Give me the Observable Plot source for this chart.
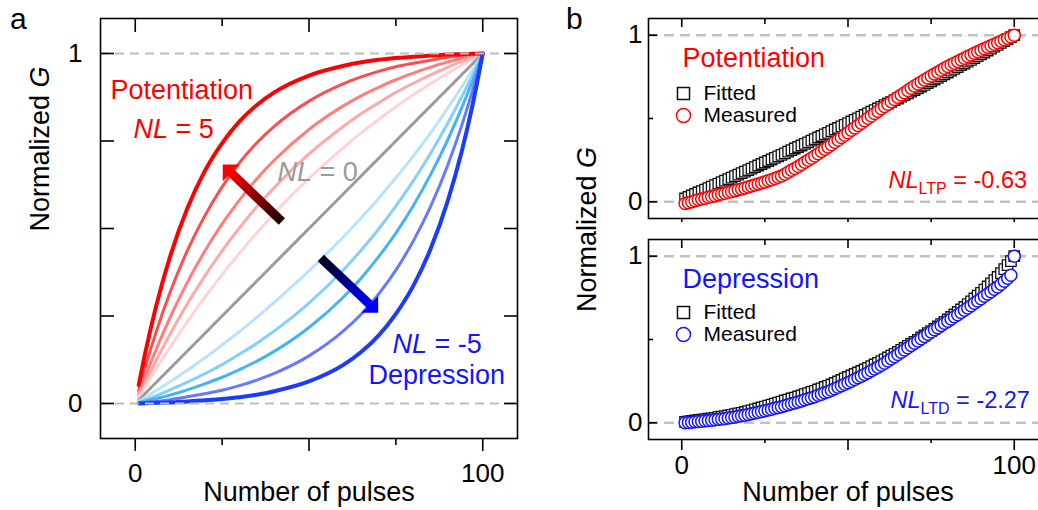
<!DOCTYPE html>
<html><head><meta charset="utf-8">
<script src="https://cdn.jsdelivr.net/npm/d3@7"></script>
<script src="https://cdn.jsdelivr.net/npm/@observablehq/plot@0.6"></script>
<style>
html,body{margin:0;padding:0;background:#fff;overflow:hidden;}
#root{position:relative;width:1038px;height:510px;overflow:hidden;font-family:"Liberation Sans",Arial,Helvetica,sans-serif;color:#000;}
</style></head><body><div id="root"></div>
<script>
// ---------------- DATA ----------------
// Panel a: pulse numbers sampled along each curve
const pulsesA = [1,3,6,10,15,20,25,30,35,40,50,60,65,70,75,80,85,90,94,97,100];
const nlLevels = [5,4,3,2,1,0,-1,-2,-3,-4,-5];
const nlColors = ["#ff0000","#ff4d4d","#ff7d7d","#ffa8a8","#ffd3d3","#9a9a9a","#b8e3ff","#86cefc","#44b3f5","#6679ff","#1a3cff"];
const curveNL5  = [0.053,0.150,0.278,0.419,0.558,0.664,0.744,0.806,0.853,0.889,0.937,0.965,0.975,0.982,0.987,0.991,0.994,0.997,0.998,0.999,1];
const curveNL4  = [0.037,0.108,0.204,0.317,0.437,0.536,0.619,0.688,0.745,0.792,0.864,0.914,0.933,0.949,0.962,0.972,0.981,0.989,0.994,0.997,1];
const curveNL3  = [0.027,0.080,0.154,0.245,0.346,0.435,0.513,0.581,0.642,0.695,0.783,0.851,0.879,0.903,0.925,0.944,0.961,0.976,0.986,0.993,1];
const curveNL2  = [0.022,0.063,0.123,0.198,0.285,0.364,0.436,0.502,0.562,0.617,0.713,0.793,0.828,0.859,0.889,0.915,0.939,0.961,0.978,0.989,1];
const curveNL1  = [0.017,0.050,0.099,0.160,0.234,0.303,0.368,0.430,0.488,0.543,0.643,0.732,0.773,0.811,0.848,0.882,0.914,0.944,0.967,0.984,1];
const curveNL0  = [0.010,0.030,0.060,0.100,0.150,0.200,0.250,0.300,0.350,0.400,0.500,0.600,0.650,0.700,0.750,0.800,0.850,0.900,0.940,0.970,1];
const curveNLm1 = [0.006,0.018,0.037,0.062,0.095,0.130,0.167,0.206,0.246,0.289,0.379,0.477,0.530,0.586,0.645,0.707,0.773,0.845,0.905,0.952,1];
const curveNLm2 = [0.004,0.011,0.022,0.039,0.061,0.085,0.111,0.141,0.172,0.207,0.287,0.383,0.438,0.498,0.564,0.636,0.715,0.802,0.877,0.937,1];
const curveNLm3 = [0.002,0.007,0.014,0.024,0.039,0.056,0.075,0.097,0.121,0.149,0.217,0.305,0.358,0.419,0.487,0.565,0.654,0.755,0.846,0.920,1];
const curveNLm4 = [0.001,0.003,0.006,0.011,0.019,0.028,0.038,0.051,0.067,0.086,0.136,0.208,0.255,0.312,0.381,0.464,0.563,0.683,0.796,0.892,1];
const curveNLm5 = [0.000,0.001,0.002,0.003,0.006,0.009,0.013,0.018,0.025,0.035,0.063,0.111,0.147,0.194,0.256,0.336,0.442,0.581,0.722,0.850,1];
const curvesA = [curveNL5,curveNL4,curveNL3,curveNL2,curveNL1,curveNL0,curveNLm1,curveNLm2,curveNLm3,curveNLm4,curveNLm5];
const refLevels = [0, 1];
// annotation arrows of panel a (tail -> head base), data units
const arrowPot = [{x1: 42.2, y1: 0.52, x2: 27.6, y2: 0.659}];
const arrowDep = [{x1: 53.4, y1: 0.416, x2: 67.5, y2: 0.283}];

// Panel b: 100 pulses
const pulsesB = d3.range(1, 101);
const ltpMeasured = [-0.010,-0.005,0.000,0.006,0.012,0.017,0.022,0.027,0.032,0.037,0.042,0.047,0.052,0.057,0.062,0.067,0.072,0.077,0.083,0.089,0.095,0.101,0.107,0.113,0.119,0.126,0.133,0.140,0.147,0.155,0.166,0.177,0.189,0.200,0.212,0.224,0.237,0.249,0.262,0.275,0.288,0.302,0.315,0.329,0.343,0.357,0.371,0.386,0.400,0.414,0.429,0.443,0.458,0.472,0.487,0.501,0.515,0.530,0.544,0.558,0.572,0.586,0.600,0.614,0.628,0.641,0.655,0.668,0.682,0.695,0.707,0.719,0.731,0.743,0.755,0.767,0.778,0.790,0.801,0.812,0.822,0.832,0.842,0.852,0.862,0.872,0.881,0.891,0.900,0.910,0.919,0.928,0.937,0.946,0.955,0.964,0.973,0.982,0.990,1.000];
const ltpFitted = [0.020,0.029,0.038,0.047,0.056,0.064,0.073,0.082,0.091,0.100,0.109,0.118,0.127,0.136,0.145,0.154,0.163,0.172,0.181,0.190,0.199,0.208,0.218,0.227,0.236,0.245,0.254,0.264,0.273,0.282,0.291,0.301,0.310,0.320,0.329,0.338,0.348,0.357,0.367,0.376,0.386,0.395,0.405,0.414,0.424,0.434,0.443,0.453,0.462,0.472,0.482,0.492,0.501,0.511,0.521,0.531,0.541,0.550,0.560,0.570,0.580,0.590,0.600,0.610,0.620,0.631,0.641,0.651,0.661,0.671,0.681,0.692,0.702,0.713,0.723,0.734,0.744,0.755,0.765,0.776,0.787,0.798,0.809,0.820,0.830,0.841,0.852,0.863,0.874,0.885,0.896,0.908,0.919,0.931,0.942,0.954,0.965,0.977,0.988,1.000];
const ltdMeasured = [0.000,0.002,0.004,0.006,0.008,0.010,0.012,0.014,0.016,0.018,0.021,0.023,0.026,0.029,0.032,0.035,0.039,0.042,0.046,0.050,0.054,0.059,0.063,0.068,0.072,0.077,0.082,0.087,0.092,0.097,0.103,0.108,0.114,0.119,0.125,0.131,0.138,0.144,0.151,0.157,0.165,0.172,0.180,0.187,0.195,0.204,0.213,0.222,0.231,0.240,0.250,0.260,0.270,0.280,0.290,0.301,0.312,0.323,0.334,0.345,0.358,0.371,0.384,0.397,0.410,0.424,0.437,0.451,0.464,0.478,0.491,0.505,0.518,0.532,0.545,0.558,0.571,0.584,0.597,0.610,0.623,0.636,0.649,0.662,0.675,0.689,0.703,0.717,0.731,0.745,0.759,0.773,0.787,0.801,0.815,0.832,0.850,0.867,0.885,1.000];
const ltdFitted = [0.006,0.009,0.011,0.014,0.017,0.019,0.022,0.025,0.027,0.030,0.034,0.037,0.040,0.044,0.048,0.052,0.057,0.060,0.065,0.070,0.075,0.081,0.086,0.092,0.097,0.103,0.109,0.115,0.121,0.127,0.134,0.139,0.146,0.151,0.158,0.164,0.172,0.178,0.186,0.192,0.200,0.207,0.215,0.222,0.230,0.239,0.248,0.257,0.266,0.275,0.284,0.293,0.302,0.311,0.320,0.330,0.340,0.350,0.360,0.370,0.381,0.392,0.403,0.414,0.425,0.438,0.449,0.462,0.473,0.486,0.498,0.512,0.524,0.538,0.550,0.564,0.578,0.592,0.606,0.620,0.635,0.650,0.665,0.680,0.695,0.712,0.729,0.746,0.763,0.780,0.799,0.818,0.837,0.856,0.875,0.898,0.922,0.946,0.970,1.000];

const xTicksMajor = [0, 50, 100], xTicksMinor = [25, 75], xTickLabels = [0, 100];
const yTicksA = [0, 0.25, 0.5, 0.75, 1], yTicksBMajor = [0, 1], yTicksBMinor = [0.5], yTickLabels = [0, 1];
const legendLabels = ["Fitted", "Measured"];

// ---------------- HELPERS ----------------
const FONT = '"Liberation Sans", Arial, Helvetica, sans-serif';
const NS = "http://www.w3.org/2000/svg";
const root = document.getElementById("root");
const RED = "#ff0000", BLUE = "#1414ff";
function place(el, left, top) { el.style.position = "absolute"; el.style.left = left + "px"; el.style.top = top + "px"; root.appendChild(el); }
function ts(txt, attrs) { const t = document.createElementNS(NS, "tspan"); for (const k in attrs) t.setAttribute(k, attrs[k]); t.textContent = txt; return t; }
function richify(svg) {
  svg.querySelectorAll("text").forEach(t => {
    const s = t.textContent; let m;
    if ((m = s.match(/^NL_(\w+) = (.+)$/))) {
      t.textContent = "";
      t.append(ts("NL", {"font-style": "italic"}), ts(m[1], {"font-size": 16, dy: 6}), ts(" = " + m[2], {dy: -6}));
    } else if ((m = s.match(/^NL = (.+)$/))) {
      t.textContent = "";
      t.append(ts("NL", {"font-style": "italic"}), ts(" = " + m[1], {}));
    } else if (s === "Normalized G") {
      t.textContent = "";
      t.append(ts("Normalized ", {}), ts("G", {"font-style": "italic"}));
    }
  });
}
function gradient(svg, id, x1, y1, x2, y2, c1, c2) {
  let defs = svg.querySelector("defs");
  if (!defs) { defs = document.createElementNS(NS, "defs"); svg.insertBefore(defs, svg.firstChild); }
  const g = document.createElementNS(NS, "linearGradient");
  g.setAttribute("id", id);
  g.setAttribute("x1", x1); g.setAttribute("y1", y1); g.setAttribute("x2", x2); g.setAttribute("y2", y2);
  [[0, c1], [1, c2]].forEach(([o, c]) => { const s = document.createElementNS(NS, "stop"); s.setAttribute("offset", o); s.setAttribute("stop-color", c); g.appendChild(s); });
  defs.appendChild(g);
}
const headNW = {draw(ctx, size) { const h = 0.7 * Math.sqrt(size / Math.PI); ctx.moveTo(-h, -h); ctx.lineTo(h, -h); ctx.lineTo(-h, h); ctx.closePath(); }};
const headSE = {draw(ctx, size) { const h = 0.7 * Math.sqrt(size / Math.PI); ctx.moveTo(h, h); ctx.lineTo(-h, h); ctx.lineTo(h, -h); ctx.closePath(); }};
const label = (txt, o) => Plot.text([txt], {text: d => d, frameAnchor: "top-left", textAnchor: "start", lineAnchor: "bottom", ...o});
const fmt = d => String(d);
const baseStyle = {fontFamily: FONT, fontSize: "26px", color: "black", background: "white", overflow: "visible"};

// ---------------- PANEL a ----------------
const tidyA = [];
nlLevels.forEach((nl, i) => curvesA[i].forEach((g, j) => tidyA.push({nl, pulse: pulsesA[j], g})));

const svgA = Plot.plot({
  width: 540, height: 510,
  marginLeft: 100, marginRight: 23, marginTop: 18, marginBottom: 72,
  x: {domain: [-10, 110]},
  y: {domain: [-0.1, 1.1]},
  color: {type: "ordinal", domain: nlLevels, range: nlColors},
  style: baseStyle,
  marks: [
    Plot.line(tidyA.filter(d => Math.abs(d.nl) < 5), {x: "pulse", y: "g", z: "nl", stroke: "nl", strokeWidth: 3, curve: "monotone-x"}),
    Plot.line(tidyA.filter(d => Math.abs(d.nl) === 5), {x: "pulse", y: "g", z: "nl", stroke: "nl", strokeWidth: 4, curve: "monotone-x"}),
    Plot.ruleY(refLevels, {stroke: "#bdbdbd", strokeWidth: 2, strokeDasharray: "9,6"}),
    Plot.link(arrowPot, {x1: "x1", y1: "y1", x2: "x2", y2: "y2", stroke: "url(#gradPot)", strokeWidth: 9}),
    Plot.dot(arrowPot, {x: "x2", y: "y2", symbol: headNW, r: 12, fill: "#ff0000"}),
    Plot.link(arrowDep, {x1: "x1", y1: "y1", x2: "x2", y2: "y2", stroke: "url(#gradDep)", strokeWidth: 9}),
    Plot.dot(arrowDep, {x: "x2", y: "y2", symbol: headSE, r: 12, fill: "#0000ff"}),
    Plot.frame({stroke: "black", strokeWidth: 1.6}),
    Plot.axisX(xTicksMajor, {anchor: "bottom", tickSize: 13, fill: "none", label: null, strokeWidth: 1.6}),
    Plot.axisX(xTicksMinor, {anchor: "bottom", tickSize: 7, fill: "none", label: null, strokeWidth: 1.6}),
    Plot.axisX(xTicksMajor, {anchor: "top", tickSize: -13, fill: "none", label: null, strokeWidth: 1.6}),
    Plot.axisX(xTicksMinor, {anchor: "top", tickSize: -7, fill: "none", label: null, strokeWidth: 1.6}),
    Plot.axisX(xTickLabels, {anchor: "bottom", tickSize: 0, tickPadding: 25, tickFormat: fmt, label: null, fontSize: 26}),
    Plot.axisY(yTicksA, {anchor: "left", tickSize: -14, fill: "none", label: null, strokeWidth: 1.6}),
    Plot.axisY(yTicksA, {anchor: "right", tickSize: -14, fill: "none", label: null, strokeWidth: 1.6}),
    Plot.axisY(yTickLabels, {anchor: "left", tickSize: 0, tickPadding: 18, tickFormat: fmt, label: null, fontSize: 26}),
    Plot.text(["Number of pulses"], {text: d => d, frameAnchor: "bottom", lineAnchor: "bottom", dy: 62, fontSize: 27}),
    Plot.text(["Normalized G"], {text: d => d, frameAnchor: "left", lineAnchor: "middle", rotate: -90, dx: -60, dy: 3, fontSize: 27}),
    label("Potentiation", {dx: 10, dy: 80, fill: RED, fontSize: 27}),
    label("NL = 5", {dx: 33, dy: 119, fill: RED, fontSize: 27}),
    label("NL = 0", {dx: 177, dy: 162, fill: "#9a9a9a", fontSize: 27}),
    label("NL = -5", {dx: 292, dy: 334, fill: BLUE, fontSize: 27}),
    label("Depression", {dx: 268, dy: 365, fill: BLUE, fontSize: 27})
  ]
});
gradient(svgA, "gradPot", 1, 1, 0, 0, "#140000", "#ff0000");
gradient(svgA, "gradDep", 0, 0, 1, 1, "#000018", "#0000ff");
richify(svgA);
place(svgA, 0, 0);

// ---------------- PANEL b ----------------
function panelB({measured, fitted, color, title, nlText, height, marginTop, marginBottom, bottomLabels, titleDy, legDy, nlDx, nlDy, minorBottom}) {
  const fit = pulsesB.map((p, i) => ({p, g: fitted[i]}));
  const mea = pulsesB.map((p, i) => ({p, g: measured[i]}));
  const marks = [
    Plot.ruleY(refLevels, {stroke: "#c2c2c2", strokeWidth: 2.5, strokeDasharray: "10,6"}),
    Plot.dot(fit, {x: "p", y: "g", symbol: "square", r: 5.9, stroke: "#111", strokeWidth: 1.3, fill: "white"}),
    Plot.dot(mea, {x: "p", y: "g", symbol: "circle", r: 6, stroke: color, strokeWidth: 1.5, fill: "white"}),
    Plot.frame({stroke: "black", strokeWidth: 1.6}),
    Plot.axisX(xTicksMajor, {anchor: "top", tickSize: -8, fill: "none", label: null, strokeWidth: 1.6}),
    Plot.axisX(xTicksMinor, {anchor: "top", tickSize: -5, fill: "none", label: null, strokeWidth: 1.6}),
    Plot.axisX(xTicksMajor, {anchor: "bottom", tickSize: 11, fill: "none", label: null, strokeWidth: 1.6}),
    Plot.axisX(xTicksMinor, {anchor: "bottom", tickSize: minorBottom, fill: "none", label: null, strokeWidth: 1.6}),
    Plot.axisY(yTicksBMajor, {anchor: "left", tickSize: -9, fill: "none", label: null, strokeWidth: 1.6}),
    Plot.axisY(yTicksBMinor, {anchor: "left", tickSize: -5, fill: "none", label: null, strokeWidth: 1.6}),
    Plot.axisY(yTickLabels, {anchor: "left", tickSize: 0, tickPadding: 6, tickFormat: fmt, label: null, fontSize: 26}),
    label(title, {dx: 34, dy: titleDy, fill: color, fontSize: 27}),
    Plot.dot([legendLabels[0]], {frameAnchor: "top-left", dx: 35, dy: legDy, symbol: "square", r: 6.8, stroke: "#111", strokeWidth: 1.5, fill: "white"}),
    Plot.dot([legendLabels[1]], {frameAnchor: "top-left", dx: 35, dy: legDy + 22, symbol: "circle", r: 7, stroke: color, strokeWidth: 1.5, fill: "white"}),
    Plot.text([legendLabels[0]], {text: d => d, frameAnchor: "top-left", textAnchor: "start", lineAnchor: "middle", dx: 55, dy: legDy, fontSize: 21, fill: "black"}),
    Plot.text([legendLabels[1]], {text: d => d, frameAnchor: "top-left", textAnchor: "start", lineAnchor: "middle", dx: 55, dy: legDy + 22, fontSize: 21, fill: "black"}),
    label(nlText, {dx: nlDx, dy: nlDy, fill: color, fontSize: 23.5})
  ];
  if (bottomLabels) {
    marks.push(Plot.axisX(xTickLabels, {anchor: "bottom", tickSize: 0, tickPadding: 16, tickFormat: fmt, label: null, fontSize: 26}));
    marks.push(Plot.text(["Number of pulses"], {text: d => d, frameAnchor: "bottom", lineAnchor: "bottom", dy: 61, fontSize: 27}));
  }
  const svg = Plot.plot({
    width: 500, height, marginLeft: 88, marginRight: 13, marginTop, marginBottom,
    x: {domain: [-10, 110]}, y: {domain: [-0.1, 1.1]},
    style: baseStyle, marks
  });
  richify(svg);
  return svg;
}
const svgB1 = panelB({measured: ltpMeasured, fitted: ltpFitted, color: RED, title: "Potentiation", nlText: "NL_LTP = -0.63",
  height: 235, marginTop: 18, marginBottom: 17, bottomLabels: false, titleDy: 48, legDy: 75, nlDx: 240, nlDy: 169, minorBottom: 10});
place(svgB1, 560, 0);
const svgB2 = panelB({measured: ltdMeasured, fitted: ltdFitted, color: BLUE, title: "Depression", nlText: "NL_LTD = -2.27",
  height: 288, marginTop: 17, marginBottom: 71, bottomLabels: true, titleDy: 48, legDy: 73, nlDx: 242, nlDy: 168, minorBottom: 4});
place(svgB2, 560, 222);

// ---------------- HTML labels ----------------
function htmlText(html, left, top, size, extra) {
  const d = document.createElement("div");
  d.innerHTML = html;
  d.style.fontSize = size + "px"; d.style.lineHeight = size + "px"; d.style.whiteSpace = "nowrap";
  Object.assign(d.style, extra || {});
  place(d, left, top);
  return d;
}
htmlText("a", 10, 4, 30);
htmlText("b", 566, 4, 30);
htmlText("Normalized <i>G</i>", 477, 216, 27, {width: "220px", textAlign: "center", transform: "rotate(-90deg)", transformOrigin: "50% 50%"});
</script></body></html>
